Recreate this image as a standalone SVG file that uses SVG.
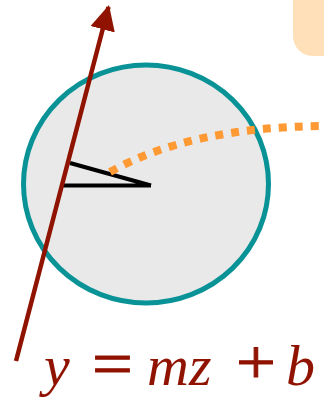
<svg xmlns="http://www.w3.org/2000/svg" width="324" height="398" viewBox="0 0 324 398">
<style>
.eq{font-family:"Liberation Serif","DejaVu Serif",serif;font-size:58px;fill:#8f1300}
.it{font-style:italic}
.op{text-anchor:middle;stroke:#8f1300;stroke-width:0.9}
</style>
<defs>
<marker id="ah" markerUnits="userSpaceOnUse" markerWidth="30" markerHeight="30" viewBox="0 0 30 30" refX="23" refY="15" orient="auto">
<path d="M0,2.5 L25,15 L0,27.5 Z" fill="#8f1300"/>
</marker>
</defs>
<g id="note-box"><rect x="293" y="-30" width="60" height="86" rx="20" fill="#ffe0b8"/></g>
<g id="circle"><ellipse cx="146" cy="184" rx="122.5" ry="119" fill="#e9e9e9" stroke="#0a9396" stroke-width="5"/></g>
<g id="angle">
<path d="M63,185.5 L151,185.5 M70,163 L151,185.5" fill="none" stroke="#000" stroke-width="4" stroke-linecap="butt"/>
</g>
<g id="connectors">
<path d="M110,172 Q190,127 324,126" fill="none" stroke="#ff9933" stroke-width="8" stroke-dasharray="8 8"/>
<line x1="16" y1="361" x2="108.5" y2="7" stroke="#8f1300" stroke-width="4.5" marker-end="url(#ah)"/>
</g>
<g id="equation">
<text class="eq it" x="44" y="385">y</text>
<text class="eq op" x="0" y="14.5" transform="translate(112.5,369.5) scale(1.25,1.08)">=</text>
<text class="eq it" x="147" y="385">mz</text>
<text class="eq op" x="0" y="14.5" transform="translate(256,368) scale(1.22,1.08)">+</text>
<text class="eq it" x="286" y="385">b</text>
</g>
</svg>
